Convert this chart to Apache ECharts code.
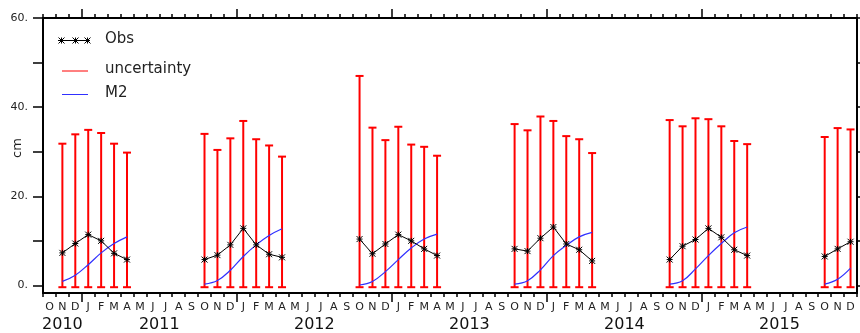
<!DOCTYPE html>
<html>
<head>
<meta charset="utf-8">
<script src="https://cdn.jsdelivr.net/npm/echarts@6/dist/echarts.min.js"></script>
<style>
  html, body { margin: 0; padding: 0; background: #fff; }
  #chart { width: 860px; height: 333px; }
</style>
</head>
<body>
<div id="chart"></div>
<script>
// month letters, starting in January
const monthCycle = ['J', 'F', 'M', 'A', 'M', 'J', 'J', 'A', 'S', 'O', 'N', 'D']
const yearLabels = ['2010', '2011', '2012', '2013', '2014', '2015']
const yTickLabels = [0, 20, 40, 60]

// observation months (yyyy-mm)
const obsMonths = [
  '2010-11', '2010-12', '2011-01', '2011-02', '2011-03', '2011-04',
  '2011-10', '2011-11', '2011-12', '2012-01', '2012-02', '2012-03', '2012-04',
  '2012-10', '2012-11', '2012-12', '2013-01', '2013-02', '2013-03', '2013-04',
  '2013-10', '2013-11', '2013-12', '2014-01', '2014-02', '2014-03', '2014-04',
  '2014-10', '2014-11', '2014-12', '2015-01', '2015-02', '2015-03', '2015-04',
  '2015-10', '2015-11', '2015-12'
]
const obsValues = [
  7.3, 9.4, 11.4, 10.0, 7.2, 5.8,
  5.8, 6.8, 9.1, 12.8, 9.1, 7.0, 6.3,
  10.4, 7.1, 9.3, 11.4, 10.0, 8.2, 6.7,
  8.2, 7.7, 10.6, 13.1, 9.3, 8.0, 5.5,
  5.8, 8.8, 10.3, 12.8, 10.8, 8.0, 6.7,
  6.5, 8.2, 9.8
]
const uncertaintyLow = [
  -0.4, -0.4, -0.4, -0.4, -0.4, -0.4,
  -0.4, -0.4, -0.4, -0.4, -0.4, -0.4, -0.4,
  -0.4, -0.4, -0.4, -0.4, -0.4, -0.4, -0.4,
  -0.4, -0.4, -0.4, -0.4, -0.4, -0.4, -0.4,
  -0.4, -0.4, -0.4, -0.4, -0.4, -0.4, -0.4,
  -0.4, -0.4, -0.4
]
const uncertaintyHigh = [
  31.8, 33.9, 34.9, 34.2, 31.8, 29.8,
  34.0, 30.4, 33.0, 36.9, 32.8, 31.4, 28.9,
  47.0, 35.4, 32.6, 35.6, 31.6, 31.1, 29.1,
  36.2, 34.8, 37.9, 36.9, 33.5, 32.8, 29.7,
  37.1, 35.7, 37.5, 37.3, 35.7, 32.4, 31.7,
  33.3, 35.3, 35.0
]
const m2Values = [
  0.9, 2.3, 4.65, 7.3, 9.4, 10.9,
  0.3, 1.1, 3.4, 6.5, 9.1, 11.2, 12.7,
  0.1, 0.9, 3.1, 5.8, 8.4, 10.4, 11.5,
  0.3, 1.05, 3.5, 6.7, 9.0, 10.9, 11.9,
  0.3, 1.05, 3.7, 6.7, 9.4, 11.8, 13.1,
  0.3, 1.4, 3.9
]

const START_YEAR = 2010
const START_MONTH = 10
const N_MONTHS = 63

const monthIdx = (s) => {
  const [y, m] = s.split('-').map(Number)
  return (y - START_YEAR) * 12 + (m - START_MONTH)
}

// line data with breaks between seasons
const withGaps = (values) => {
  const out = []
  obsMonths.forEach((s, i) => {
    if (i > 0 && monthIdx(s) - monthIdx(obsMonths[i - 1]) > 1) out.push([monthIdx(s) - 0.5, '-'])
    out.push([monthIdx(s) + 0.5, values[i]])
  })
  return out
}

const monthBounds = []
for (let i = 0; i <= N_MONTHS; i++) monthBounds.push(i)
const monthMids = monthBounds.slice(0, N_MONTHS).map((v) => v + 0.5)
const yearBounds = monthBounds.filter((v) => (v + START_MONTH - 1) % 12 === 0 && v > 0 && v < N_MONTHS)
// year labels sit mid-year (or mid of the visible part)
const yearMids = yearLabels.map((_, i) => {
  const a = Math.max(0, i * 12 - (START_MONTH - 1))
  const b = Math.min(N_MONTHS, (i + 1) * 12 - (START_MONTH - 1))
  return (a + b) / 2
})

const FONT = 'DejaVu Sans'
const asterisk = 'path://M0,0L8,8M8,0L0,8M0,4L8,4M4,0L4,8'

// legend asterisk drawn from plain lines
const legendStar = (cx, cy) => {
  const r = 3
  const st = { stroke: '#000', lineWidth: 1 }
  return [
    { type: 'line', shape: { x1: cx - r, y1: cy - r, x2: cx + r, y2: cy + r }, style: st },
    { type: 'line', shape: { x1: cx + r, y1: cy - r, x2: cx - r, y2: cy + r }, style: st },
    { type: 'line', shape: { x1: cx, y1: cy - r, x2: cx, y2: cy + r }, style: st }
  ]
}

const baseX = {
  type: 'value', min: 0, max: N_MONTHS,
  splitLine: { show: false }
}
const baseY = {
  type: 'value', min: -1.7, max: 60,
  splitLine: { show: false }
}

const chart = echarts.init(document.getElementById('chart'))

const option = {
  animation: false,
  grid: { left: 43, right: 3, top: 18, bottom: 40, containLabel: false, outerBoundsMode: 'none' },
  xAxis: [
    {
      ...baseX,
      position: 'bottom',
      axisLine: { onZero: false, lineStyle: { color: '#000', width: 2 } },
      axisTick: { customValues: monthBounds, length: 4, lineStyle: { color: '#000', width: 1.5 } },
      axisLabel: {
        customValues: monthMids, margin: 9, fontSize: 11, fontFamily: FONT, color: '#222',
        formatter: (v) => monthCycle[(Math.floor(v) + START_MONTH - 1) % 12]
      }
    },
    {
      ...baseX,
      position: 'bottom',
      axisLine: { show: false, onZero: false },
      axisTick: { customValues: yearBounds, length: 9, lineStyle: { color: '#000', width: 1.5 } },
      axisLabel: {
        customValues: yearMids, margin: 24, fontSize: 16, fontFamily: FONT, color: '#111',
        formatter: (v) => yearLabels[yearMids.indexOf(v)]
      }
    },
    {
      ...baseX,
      position: 'top',
      axisLine: { onZero: false, lineStyle: { color: '#000', width: 2 } },
      axisTick: { customValues: monthBounds, length: 4, lineStyle: { color: '#000', width: 1.5 } },
      axisLabel: { show: false }
    },
    {
      ...baseX,
      position: 'top',
      axisLine: { show: false, onZero: false },
      axisTick: { customValues: yearBounds, length: 9, lineStyle: { color: '#000', width: 1.5 } },
      axisLabel: { show: false }
    }
  ],
  yAxis: [
    {
      ...baseY,
      position: 'left',
      axisLine: { onZero: false, lineStyle: { color: '#000', width: 2 } },
      axisTick: { customValues: [0, 10, 20, 30, 40, 50, 60], length: 10, lineStyle: { color: '#000', width: 1.5 } },
      axisLabel: {
        customValues: yTickLabels, margin: 15, fontSize: 11, fontFamily: FONT, color: '#222',
        formatter: (v) => v + '.'
      }
    },
    {
      ...baseY,
      position: 'right',
      axisLine: { onZero: false, lineStyle: { color: '#000', width: 2 } },
      axisTick: { customValues: [0, 10, 20, 30, 40, 50, 60], length: 4, lineStyle: { color: '#000', width: 1.5 } },
      axisLabel: { show: false }
    }
  ],
  graphic: [
    {
      type: 'text', x: 18, y: 148, rotation: Math.PI / 2,
      style: { text: 'cm', font: '13px ' + FONT, fill: '#222', align: 'center', verticalAlign: 'middle' }
    },
    { type: 'line', shape: { x1: 58, y1: 40.5, x2: 90, y2: 40.5 }, style: { stroke: '#000', lineWidth: 1 } },
    ...legendStar(61.5, 40.5),
    ...legendStar(75.5, 40.5),
    ...legendStar(87.5, 40.5),
    { type: 'text', left: 105, top: 32, style: { text: 'Obs', font: '15px ' + FONT, fill: '#222' } },
    { type: 'line', shape: { x1: 62, y1: 71, x2: 88, y2: 71 }, style: { stroke: '#ff0000', lineWidth: 1 } },
    { type: 'text', left: 105, top: 62, style: { text: 'uncertainty', font: '15px ' + FONT, fill: '#222' } },
    { type: 'line', shape: { x1: 62, y1: 94.5, x2: 88, y2: 94.5 }, style: { stroke: '#3030ff', lineWidth: 1 } },
    { type: 'text', left: 105, top: 86, style: { text: 'M2', font: '15px ' + FONT, fill: '#222' } }
  ],
  series: [
    {
      name: 'uncertainty',
      type: 'custom',
      clip: false,
      z: 1,
      encode: { x: 0, y: [1, 2] },
      data: obsMonths.map((s, i) => [monthIdx(s) + 0.5, uncertaintyLow[i], uncertaintyHigh[i]]),
      renderItem: (params, api) => {
        const lo = api.coord([api.value(0), api.value(1)])
        const hi = api.coord([api.value(0), api.value(2)])
        const w = 4
        const style = { stroke: '#ff0000', lineWidth: 2 }
        return {
          type: 'group',
          children: [
            { type: 'line', shape: { x1: lo[0], y1: lo[1], x2: hi[0], y2: hi[1] }, style },
            { type: 'line', shape: { x1: hi[0] - w, y1: hi[1], x2: hi[0] + w, y2: hi[1] }, style },
            { type: 'line', shape: { x1: lo[0] - w, y1: lo[1], x2: lo[0] + w, y2: lo[1] }, style }
          ]
        }
      }
    },
    {
      name: 'M2',
      type: 'line',
      z: 3,
      smooth: 0.4,
      showSymbol: false,
      connectNulls: false,
      lineStyle: { color: '#3030ff', width: 1.2 },
      data: withGaps(m2Values)
    },
    {
      name: 'Obs',
      type: 'line',
      z: 4,
      symbol: asterisk,
      symbolSize: 6,
      connectNulls: false,
      itemStyle: { color: '#000', borderColor: '#000', borderWidth: 1 },
      lineStyle: { color: '#000', width: 1 },
      data: withGaps(obsValues)
    }
  ]
}

chart.setOption(option)
</script>
</body>
</html>
